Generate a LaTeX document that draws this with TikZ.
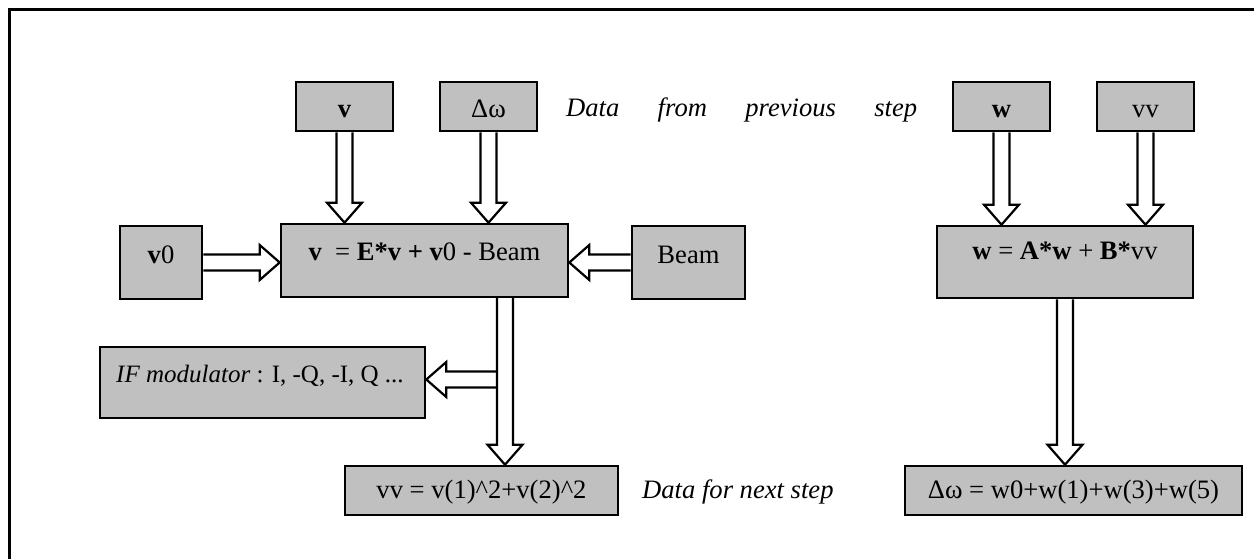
\documentclass[tikz,border=0pt]{standalone}
\usepackage{fontspec}
\setmainfont{Liberation Serif}
\usetikzlibrary{calc}
\definecolor{boxgray}{RGB}{192,192,192}
\tikzset{
  box/.style={draw=black, line width=2.6pt, fill=boxgray, inner sep=0pt},
  lbl/.style={inner sep=0pt, anchor=base, font=\fontsize{26.6}{32}\selectfont},
  arr/.style={draw=black, line width=2.2pt, line join=miter},
}
\newcommand\blockarrow[2]{%
  \coordinate (ba-h) at ($(#2)!20pt!(#1)$);
  \draw[arr] ($(#1)!8pt!90:(#2)$) -- ($(ba-h)!8pt!90:(#2)$) -- ($(ba-h)!17.5pt!90:(#2)$)
    -- (#2) -- ($(ba-h)!17.5pt!-90:(#2)$) -- ($(ba-h)!8pt!-90:(#2)$) -- ($(#1)!8pt!-90:(#2)$);
}
\begin{document}
\begin{tikzpicture}[x=1pt,y=-1pt]
\useasboundingbox (0,0) rectangle (1254,559);
% frame
\draw[line width=3pt] (9,559) -- (9,10) -- (1254,10);

% left part boxes
\node[box, minimum width=97pt, minimum height=49pt] (vtop) at (344.5,106.5) {};
\node[box, minimum width=97pt, minimum height=49pt] (dwtop) at (488.5,106.5) {};
\node[box, minimum width=287pt, minimum height=73pt] (main) at (424.5,260.5) {};
\node[box, minimum width=82pt, minimum height=73pt] (vzero) at (161,262.5) {};
\node[box, minimum width=113pt, minimum height=73pt] (beam) at (688.5,262.5) {};
\node[box, minimum width=325pt, minimum height=71pt] (ifm) at (262.5,382.5) {};
\node[box, minimum width=273pt, minimum height=49pt] (vv) at (481.5,490.5) {};

% right part boxes
\node[box, minimum width=97pt, minimum height=49pt] (wtop) at (1001.5,106.5) {};
\node[box, minimum width=97pt, minimum height=49pt] (vvtop) at (1145.5,106.5) {};
\node[box, minimum width=256pt, minimum height=72pt] (rmain) at (1065,262) {};
\node[box, minimum width=337pt, minimum height=49pt] (dw) at (1073.5,490.5) {};

% texts
\node[lbl] (t-vtop) at (344.5,117.5) {\textbf{v}};
\node[lbl] (t-dwtop) at (488.5,117.5) {Δω};
\node[lbl] (t-main) at (424.5,260) {\textbf{v}\ \ = \textbf{E*v + v}0 - Beam};
\node[lbl] (t-vzero) at (161,263) {\textbf{v}0};
\node[lbl] (t-beam) at (688.5,263) {Beam};
\node[lbl, anchor=base west, font=\fontsize{25}{30}\selectfont] (t-ifm) at (116,382) {\textit{IF modulator} : I, -Q, -I, Q ...};
\node[lbl] (t-vv) at (481.5,498) {vv = v(1)\^{}2+v(2)\^{}2};
\node[lbl] (t-wtop) at (1001.5,118) {\textbf{w}};
\node[lbl] (t-vvtop) at (1145.5,118) {vv};
\node[lbl] (t-rmain) at (1065,259) {\textbf{w} = \textbf{A*w} + \textbf{B*}vv};
\node[lbl] (t-dw) at (1073.5,498) {Δω = w0+w(1)+w(3)+w(5)};
\node[lbl, anchor=base west] (t-prev) at (566,117) {\makebox[351pt][s]{\itshape Data from previous step}};
\node[lbl, anchor=base west] (t-next) at (642,498) {\itshape Data for next step};

% arrows
\blockarrow{vtop.south}{vtop.south |- main.north}
\blockarrow{dwtop.south}{dwtop.south |- main.north}
\blockarrow{vzero.east}{vzero.east -| main.west}
\blockarrow{beam.west}{beam.west -| main.east}
\coordinate (mdown) at (505,297);
\blockarrow{mdown}{mdown |- vv.north}
\coordinate (tap) at (497,379.5);
\blockarrow{tap}{tap -| ifm.east}
\blockarrow{wtop.south}{wtop.south |- rmain.north}
\blockarrow{vvtop.south}{vvtop.south |- rmain.north}
\blockarrow{rmain.south}{rmain.south |- dw.north}
\end{tikzpicture}
\end{document}
